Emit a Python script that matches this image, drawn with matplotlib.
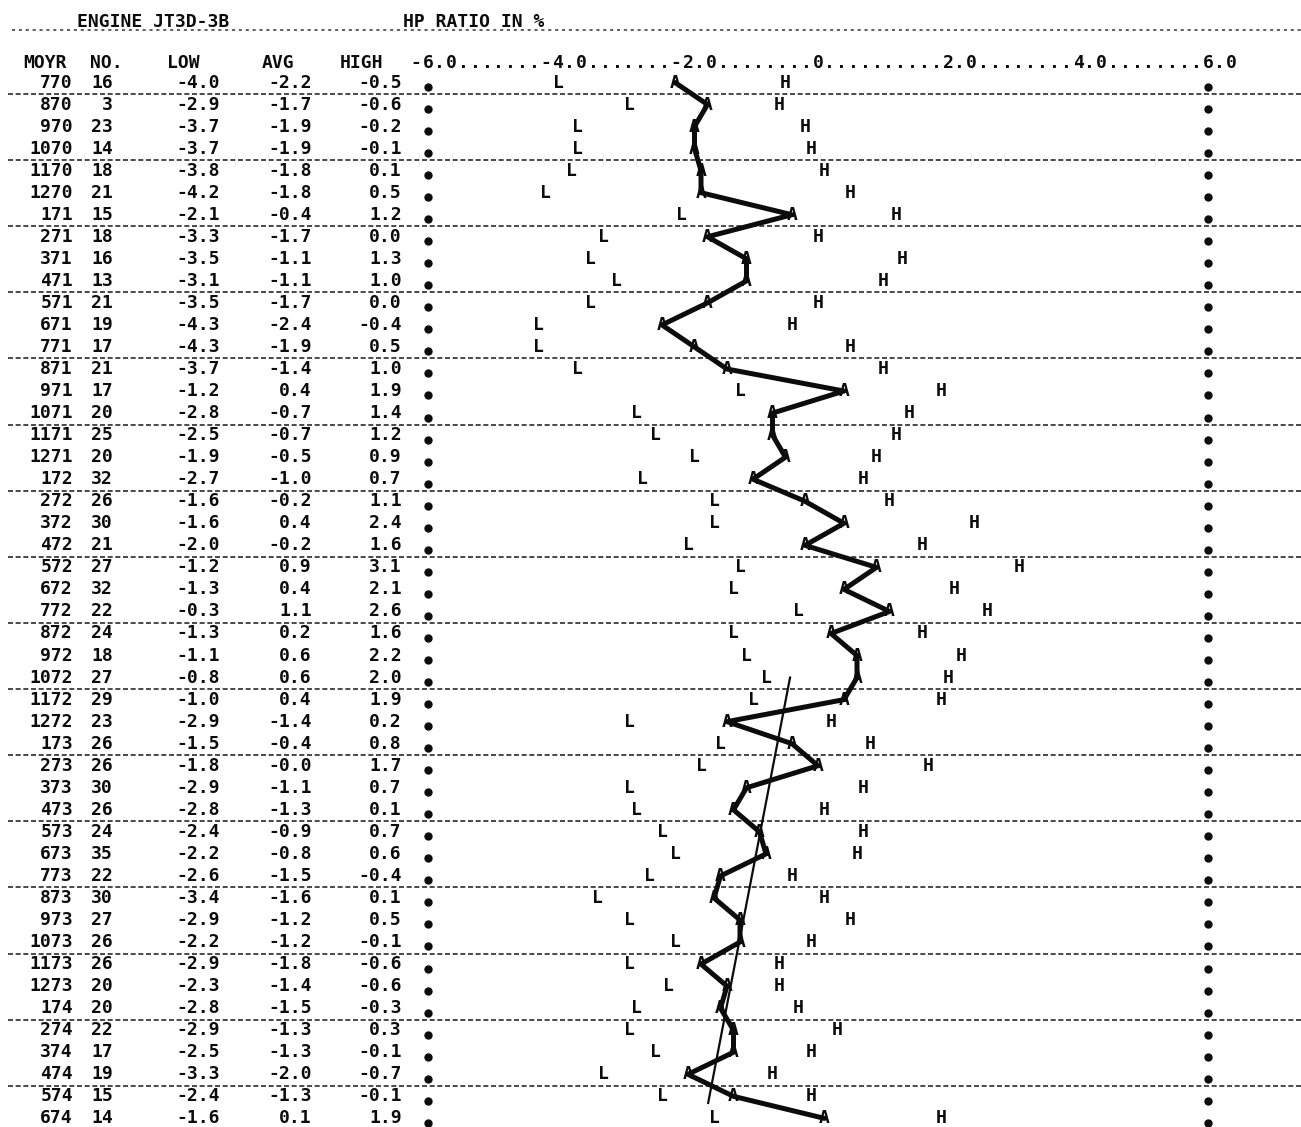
import numpy as np
import matplotlib
matplotlib.use("Agg")
import matplotlib.pyplot as plt

# ---------------- data ----------------
moyr = ['770', '870', '970', '1070', '1170', '1270', '171', '271', '371', '471',
        '571', '671', '771', '871', '971', '1071', '1171', '1271', '172', '272',
        '372', '472', '572', '672', '772', '872', '972', '1072', '1172', '1272',
        '173', '273', '373', '473', '573', '673', '773', '873', '973', '1073',
        '1173', '1273', '174', '274', '374', '474', '574', '674']
count = [16, 3, 23, 14, 18, 21, 15, 18, 16, 13,
         21, 19, 17, 21, 17, 20, 25, 20, 32, 26,
         30, 21, 27, 32, 22, 24, 18, 27, 29, 23,
         26, 26, 30, 26, 24, 35, 22, 30, 27, 26,
         26, 20, 20, 22, 17, 19, 15, 14]
low = [-4.0, -2.9, -3.7, -3.7, -3.8, -4.2, -2.1, -3.3, -3.5, -3.1,
       -3.5, -4.3, -4.3, -3.7, -1.2, -2.8, -2.5, -1.9, -2.7, -1.6,
       -1.6, -2.0, -1.2, -1.3, -0.3, -1.3, -1.1, -0.8, -1.0, -2.9,
       -1.5, -1.8, -2.9, -2.8, -2.4, -2.2, -2.6, -3.4, -2.9, -2.2,
       -2.9, -2.3, -2.8, -2.9, -2.5, -3.3, -2.4, -1.6]
avg = [-2.2, -1.7, -1.9, -1.9, -1.8, -1.8, -0.4, -1.7, -1.1, -1.1,
       -1.7, -2.4, -1.9, -1.4, 0.4, -0.7, -0.7, -0.5, -1.0, -0.2,
       0.4, -0.2, 0.9, 0.4, 1.1, 0.2, 0.6, 0.6, 0.4, -1.4,
       -0.4, -0.0, -1.1, -1.3, -0.9, -0.8, -1.5, -1.6, -1.2, -1.2,
       -1.8, -1.4, -1.5, -1.3, -1.3, -2.0, -1.3, 0.1]
high = [-0.5, -0.6, -0.2, -0.1, 0.1, 0.5, 1.2, 0.0, 1.3, 1.0,
        0.0, -0.4, 0.5, 1.0, 1.9, 1.4, 1.2, 0.9, 0.7, 1.1,
        2.4, 1.6, 3.1, 2.1, 2.6, 1.6, 2.2, 2.0, 1.9, 0.2,
        0.8, 1.7, 0.7, 0.1, 0.7, 0.6, -0.4, 0.1, 0.5, -0.1,
        -0.6, -0.6, -0.3, 0.3, -0.1, -0.7, -0.1, 1.9]

scale_values = [-6, -4, -2, 0, 2, 4, 6]
scale_labels = ['-6.0', '-4.0', '-2.0', '0', '2.0', '4.0', '6.0']
col_headers = ['MOYR', 'NO.', 'LOW', 'AVG', 'HIGH']
title_left = 'ENGINE JT3D-3B'
title_right = 'HP RATIO IN %'

# hand-drawn trend line
trend_vals = [-0.43, -1.69]
trend_rows = [27.0, 46.3]

# ---------------- layout ----------------
W, H = 1301, 1127
X0PX, PXU = 818.0, 65.0          # pixel of value 0, pixels per unit
Y0PX, PXR = 82.5, 22.04          # pixel of row 0, pixels per row

def px(p):
    return (p - X0PX) / PXU

def py(p):
    return (p - Y0PX) / PXR

fig = plt.figure(figsize=(W / 100, H / 100), dpi=100)
fig.patch.set_facecolor('white')
ax = fig.add_axes([0, 0, 1, 1])
ax.set_xlim(px(0), px(W))
ax.set_ylim(py(H), py(0))
ax.axis('off')

ink = '#0c0c0c'
FS = 13
font = dict(family='DejaVu Sans Mono', weight='bold', fontsize=FS, color=ink)

n = len(moyr)
rows = np.arange(n)

# title line
ax.text(px(77), py(22), title_left, ha='left', va='center', **font)
ax.text(px(403), py(22), title_right, ha='left', va='center', **font)
ax.plot([px(12), px(W)], [py(30), py(30)], color='#333333', lw=1.1,
        ls=(0, (2, 2.5)), zorder=1)

# column headers
hdr_x = [23, 90, 167, 262, 340]
for lab, x in zip(col_headers, hdr_x):
    ax.text(px(x), py(63), lab, ha='left', va='center', **font)

# scale line of the printout: integer digit of each label at its value
pitch = 2.0 / 11.0
chars = {}
for v, lab in zip(scale_values, scale_labels):
    digit_idx = 1 if lab.startswith('-') else 0
    c0 = int(round((v + 6) / pitch)) - digit_idx
    for k, ch in enumerate(lab):
        chars[c0 + k] = ch
cmin, cmax = min(chars), max(chars)
for c in range(cmin, cmax + 1):
    ch = chars.get(c, '.')
    ax.text(-6 + c * pitch, py(63), ch, ha='center', va='center', **font)

# table body
col_right = [73, 113, 220, 312, 402]
for i in range(n):
    vals = [moyr[i], str(count[i]), f"{low[i]:.1f}", f"{avg[i]:.1f}", f"{high[i]:.1f}"]
    for s, x in zip(vals, col_right):
        ax.text(px(x), i, s, ha='right', va='center', **font)

# row separator lines (every third row)
for r in range(0, n, 3):
    ax.plot([px(8), px(W)], [r + 0.52, r + 0.52], color='#2a2a2a', lw=1.2,
            ls=(0, (3, 1.6)), zorder=1)

# boundary dots at -6 and +6
ax.plot(np.full(n, -6.0), rows + 0.2, 'o', ms=5.0, color=ink, zorder=3)
ax.plot(np.full(n, 6.0), rows + 0.2, 'o', ms=5.0, color=ink, zorder=3)

# average line
ax.plot(avg, rows, color=ink, lw=3.6, solid_capstyle='round', zorder=2)
# trend line
ax.plot(trend_vals, trend_rows, color=ink, lw=1.6, zorder=2)

# L / A / H markers
for i in range(n):
    ax.text(low[i], i, 'L', ha='center', va='center', zorder=4, **font)
    ax.text(avg[i], i, 'A', ha='center', va='center', zorder=4, **font)
    ax.text(high[i], i, 'H', ha='center', va='center', zorder=4, **font)

fig.savefig('out.png', dpi=100, facecolor='white')
